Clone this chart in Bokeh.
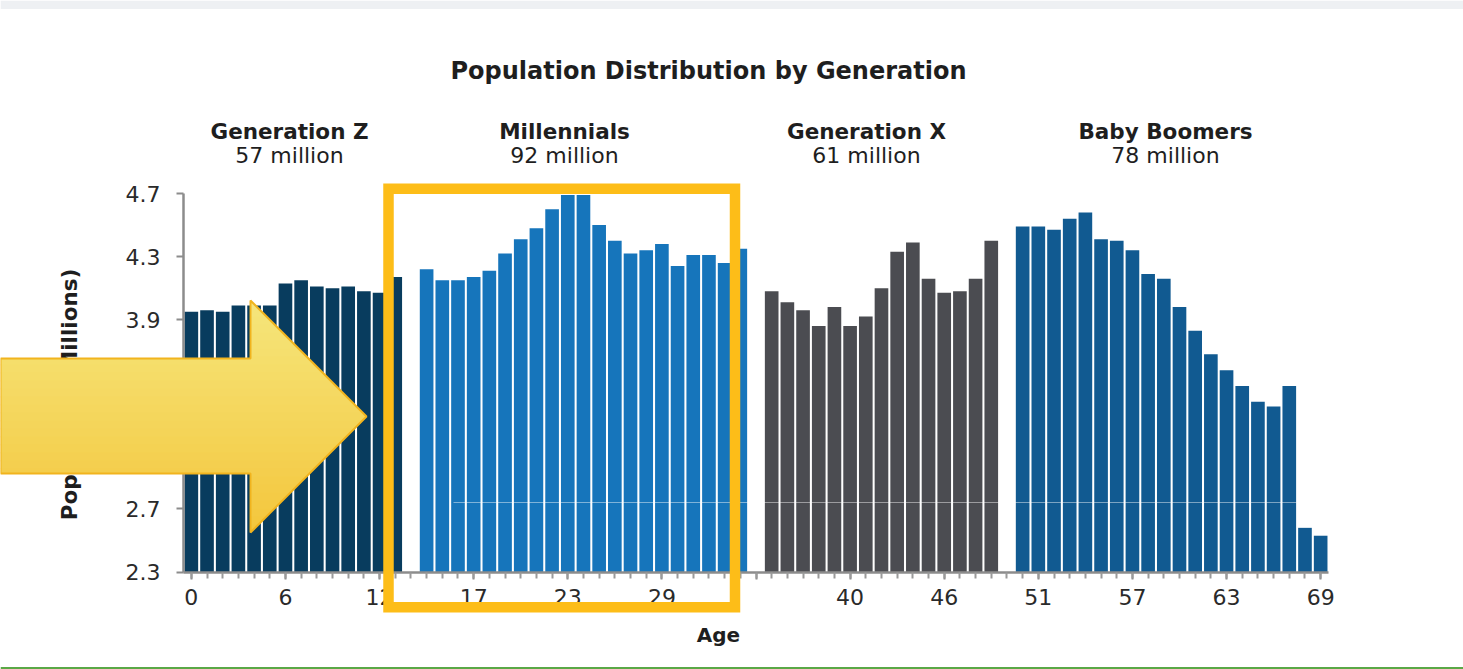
import math
from bokeh.plotting import figure
from bokeh.models import Range1d, FixedTicker, Label, PolyAnnotation, ColumnDataSource
from bokeh.embed import file_html
from bokeh.resources import INLINE

# ---------------- data (population in millions, by single year of age) ----------------
generations = ["Generation Z", "Millennials", "Generation X", "Baby Boomers"]
generation_totals = ["57 million", "92 million", "61 million", "78 million"]
first_age = [0, 14, 35, 50]

gen_z = [3.95, 3.96, 3.95, 3.99, 3.99, 3.99, 4.13, 4.15, 4.11, 4.10, 4.11, 4.08, 4.07, 4.17]
millennials = [4.22, 4.15, 4.15, 4.17, 4.21, 4.32, 4.41, 4.48, 4.60, 4.69, 4.69,
               4.50, 4.40, 4.32, 4.34, 4.38, 4.24, 4.31, 4.31, 4.26, 4.35]
gen_x = [4.08, 4.01, 3.96, 3.86, 3.98, 3.86, 3.92, 4.10, 4.33, 4.39, 4.16, 4.07, 4.08, 4.16, 4.40]
baby_boomers = [4.49, 4.49, 4.47, 4.54, 4.58, 4.41, 4.40, 4.34, 4.19, 4.16,
                3.98, 3.83, 3.68, 3.58, 3.48, 3.38, 3.35, 3.48, 2.58, 2.53]

y_ticks = [2.3, 2.7, 3.1, 3.5, 3.9, 4.3, 4.7]
x_tick_labels = ["0", "6", "12", "17", "23", "29", "", "40", "46", "51", "57", "63", "69"]
colors = ["#083c5e", "#1675bb", "#4b4c51", "#115a91"]

# ---------------- build bar table (one empty slot between generations) ----------------
series = [gen_z, millennials, gen_x, baby_boomers]
xs, tops, fills, ages, gens = [], [], [], [], []
for g, vals in enumerate(series):
    for i, v in enumerate(vals):
        age = first_age[g] + i
        xs.append(age + g)
        tops.append(v)
        fills.append(colors[g])
        ages.append(age)
        gens.append(generations[g])
n_slots = xs[-1] + 1
src = ColumnDataSource(dict(x=xs, top=tops, color=fills, age=ages, gen=gens))

FONT = "DejaVu Sans"
W, H = 1463, 669

# page-pixel layout of the plotting area (axis corner and top of value axis)
AX_L, AX_R = 183.0, 1328.0
AX_T, AX_B = 193.0, 571.5
SLOT_PX = (AX_R - AX_L) / n_slots
UNIT_PX = (AX_B - AX_T) / (y_ticks[-1] - y_ticks[0])


def dx(px):
    return (px - AX_L) / SLOT_PX - 0.5


def dy(py):
    return y_ticks[-1] - (py - AX_T) / UNIT_PX


p = figure(width=W, height=H, x_range=Range1d(dx(0), dx(W)), y_range=Range1d(dy(H), dy(0)),
           output_backend="svg", toolbar_location=None, title=None,
           min_border_left=0, min_border_right=0, min_border_top=0, min_border_bottom=0,
           background_fill_color="white", border_fill_color="white", outline_line_color=None)
p.xgrid.visible = False
p.ygrid.visible = False

p.vbar(x="x", top="top", bottom=y_ticks[0], width=0.87, fill_color="color",
       line_color=None, source=src)

# ---------------- axes ----------------
AX = "#8c8c8c"
major_x = list(range(0, n_slots, 6))
xa = p.xaxis[0]
xa.fixed_location = y_ticks[0]
xa.bounds = (-0.5, n_slots - 0.5)
xa.ticker = FixedTicker(ticks=major_x, minor_ticks=list(range(n_slots)))
xa.major_label_overrides = {t: lab for t, lab in zip(major_x, x_tick_labels)}
xa.axis_line_color = AX
xa.axis_line_width = 2.5
xa.major_tick_line_color = AX
xa.major_tick_line_width = 2
xa.major_tick_in = 0
xa.major_tick_out = 7
xa.minor_tick_line_color = "#9a9a9a"
xa.minor_tick_line_width = 2
xa.minor_tick_in = 0
xa.minor_tick_out = 6
xa.major_label_text_font = FONT
xa.major_label_text_font_size = "22px"
xa.major_label_text_color = "#2a2a2a"
xa.major_label_standoff = 10

ya = p.yaxis[0]
ya.fixed_location = -0.5
ya.bounds = (y_ticks[0], y_ticks[-1])
ya.ticker = FixedTicker(ticks=y_ticks, minor_ticks=[])
ya.major_label_overrides = {t: f"{t:.1f}" for t in y_ticks}
ya.axis_line_color = AX
ya.axis_line_width = 2.5
ya.major_tick_line_color = AX
ya.major_tick_line_width = 2
ya.major_tick_in = 0
ya.major_tick_out = 7
ya.minor_tick_line_color = None
ya.major_label_text_font = FONT
ya.major_label_text_font_size = "22px"
ya.major_label_text_color = "#2a2a2a"
ya.major_label_standoff = 16


def add_text(text, px, py, size, bold, angle=0.0, color="#1e1e1e"):
    p.add_layout(Label(x=dx(px), y=dy(py), text=text, text_align="center",
                       text_baseline="middle", text_font=FONT, text_font_size=size,
                       text_font_style="bold" if bold else "normal",
                       text_color=color, angle=angle))


# slide chrome: grey strip on top, green rule at the bottom
p.add_layout(PolyAnnotation(xs=[dx(0), dx(W), dx(W), dx(0)], ys=[dy(0), dy(0), dy(8.5), dy(8.5)],
                            fill_color="#eef0f3", fill_alpha=1.0, line_alpha=0))
p.add_layout(PolyAnnotation(xs=[dx(0), dx(W), dx(W), dx(0)],
                            ys=[dy(666.5), dy(666.5), dy(669), dy(669)],
                            fill_color="#5aa846", fill_alpha=1.0, line_alpha=0))

# faint scan line across the bars
p.segment(x0=dx(453), y0=dy(502), x1=n_slots - 0.5, y1=dy(502),
          line_color="white", line_alpha=0.45, line_width=1)

# titles and labels
add_text("Population Distribution by Generation", 708, 70, "24px", True)
label_px = [289, 564, 866, 1165]
for name, total, px in zip(generations, generation_totals, label_px):
    add_text(name, px, 131, "21.5px", True)
    add_text(total, px, 155, "22px", False)
add_text("Age", 718, 634, "20px", True)
add_text("Population (Millions)", 69, 394, "21.5px", True, angle=math.pi / 2)

# ---------------- yellow arrow (gradient approximated with bands) ----------------
arrow = [(0, 358), (250, 358), (250, 300), (366, 416), (250, 532), (250, 473), (0, 473)]


def clip(poly, inside, cross):
    out = []
    n = len(poly)
    for i in range(n):
        cur, prev = poly[i], poly[i - 1]
        if inside(cur):
            if not inside(prev):
                out.append(cross(prev, cur))
            out.append(cur)
        elif inside(prev):
            out.append(cross(prev, cur))
    return out


def hcross(yc):
    def f(a, b):
        t = (yc - a[1]) / (b[1] - a[1])
        return (a[0] + t * (b[0] - a[0]), yc)
    return f


def mix(c1, c2, t):
    a = [int(c1[i:i + 2], 16) for i in (1, 3, 5)]
    b = [int(c2[i:i + 2], 16) for i in (1, 3, 5)]
    return "#" + "".join(f"{round(a[k] + (b[k] - a[k]) * t):02x}" for k in range(3))


top_c, bot_c = "#f5e67c", "#f4c63c"
y0, y1, nb = 300, 532, 29
step = (y1 - y0) / nb
for k in range(nb):
    ya0 = y0 + k * step
    ya1 = min(y1, ya0 + step + 0.8)
    band = clip(arrow, lambda q, c=ya0: q[1] >= c, hcross(ya0))
    band = clip(band, lambda q, c=ya1: q[1] <= c, hcross(ya1))
    if len(band) < 3:
        continue
    col = mix(top_c, bot_c, (k + 0.5) / nb)
    p.add_layout(PolyAnnotation(xs=[dx(q[0]) for q in band], ys=[dy(q[1]) for q in band],
                                fill_color=col, fill_alpha=1.0, line_alpha=0))
p.add_layout(PolyAnnotation(xs=[dx(q[0]) for q in arrow], ys=[dy(q[1]) for q in arrow],
                            fill_alpha=0, line_color="#f1b41e", line_alpha=1.0, line_width=2))

# ---------------- gold highlight box ----------------
bx = [388, 734.5, 734.5, 388]
by = [188.3, 188.3, 606.7, 606.7]
p.add_layout(PolyAnnotation(xs=[dx(v) for v in bx], ys=[dy(v) for v in by],
                            fill_alpha=0, line_color="#fdbd18", line_alpha=1.0, line_width=10.5,
                            line_join="miter"))

open("out.html", "w").write(file_html(p, INLINE))
